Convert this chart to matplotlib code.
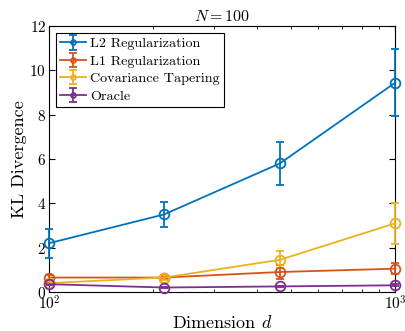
import numpy as np
import matplotlib.pyplot as plt
from matplotlib.ticker import NullFormatter

plt.rcParams['font.family'] = 'cmr10'
plt.rcParams['mathtext.fontset'] = 'cm'
plt.rcParams['axes.formatter.use_mathtext'] = True

dims = [100, 215, 464, 1000]

l2 = [2.2, 3.5, 5.8, 9.45]
l2_err = [0.65, 0.55, 0.95, 1.5]
l1 = [0.65, 0.65, 0.9, 1.05]
l1_err = [0.1, 0.08, 0.3, 0.25]
cov = [0.4, 0.65, 1.45, 3.1]
cov_err = [0.08, 0.1, 0.38, 0.92]
oracle = [0.35, 0.2, 0.25, 0.3]
oracle_err = [0.05, 0.04, 0.04, 0.05]

series = [
    ('L2 Regularization', l2, l2_err, '#0072BD'),
    ('L1 Regularization', l1, l1_err, '#D95319'),
    ('Covariance Tapering', cov, cov_err, '#EDB120'),
    ('Oracle', oracle, oracle_err, '#7E2F8E'),
]

fig = plt.figure(figsize=(4.05, 3.31), dpi=100)
ax = fig.add_axes([0.121, 0.118, 0.855, 0.803])

for name, vals, err, c in series:
    h = ax.errorbar(dims, vals, yerr=err, color=c, marker='o', mfc='none',
                    ms=7, mew=1.3, lw=1.3, capsize=3, elinewidth=1.3,
                    label=name, clip_on=False, zorder=3)
    # keep markers and bars at the axis edges visible
    for art in h.lines[1] + h.lines[2]:
        art.set_clip_on(False)

ax.set_xscale('log')
ax.set_xlim(100, 1000)
ax.set_ylim(0, 12)
ax.set_yticks([0, 2, 4, 6, 8, 10, 12])
ax.xaxis.set_minor_formatter(NullFormatter())
ax.tick_params(which='both', direction='in', top=True, right=True, labelsize=11, pad=2)
ax.tick_params(which='major', length=4)
ax.tick_params(which='minor', length=2)
ax.set_xlabel('Dimension $d$', fontsize=13, labelpad=1)
ax.set_ylabel('KL Divergence', fontsize=13, labelpad=2)
ax.set_title('$N = 100$', fontsize=11.5, pad=4)

leg = ax.legend(loc='upper left', fontsize=10.2, fancybox=False, framealpha=1,
                edgecolor='black', borderaxespad=0.5, handlelength=1.8,
                handletextpad=0.3, labelspacing=0.32, borderpad=0.3,
                markerscale=0.5)
leg.get_frame().set_linewidth(0.8)

fig.savefig('out.png', dpi=100)
